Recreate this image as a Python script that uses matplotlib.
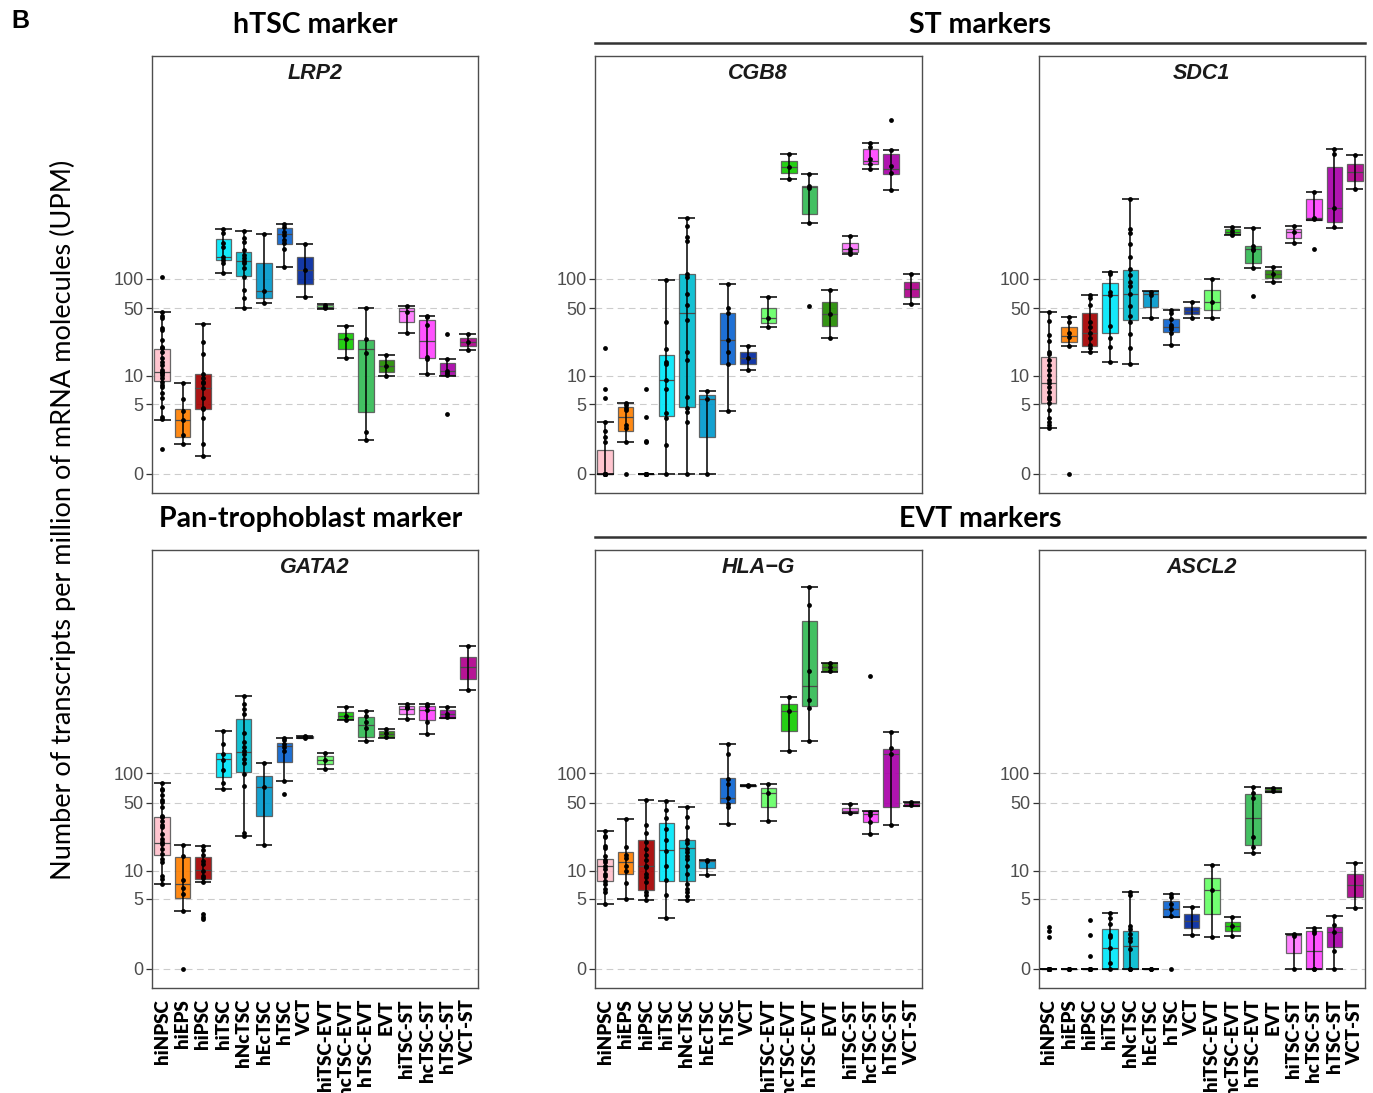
import numpy as np
import matplotlib
matplotlib.use("Agg")
import matplotlib.pyplot as plt
from matplotlib.colors import to_rgba

plt.rcParams["font.family"] = ["Liberation Sans", "DejaVu Sans"]

# ---------------- data (UPM) ----------------
groups = ["hiNPSC", "hiEPS", "hiPSC", "hiTSC", "hNcTSC", "hEcTSC", "hTSC", "VCT",
          "hiTSC-EVT", "hcTSC-EVT", "hTSC-EVT", "EVT",
          "hiTSC-ST", "hcTSC-ST", "hTSC-ST", "VCT-ST"]
colors = ["#FFC0CB", "#FF7F00", "#A50000", "#00E8FA", "#00BCD0", "#0099CC", "#0A64D2", "#0028A0",
          "#66FF66", "#12CC00", "#33BB55", "#228B00",
          "#FF77FF", "#FF44FF", "#AA00AA", "#B0008C"]
y_ticks = [0, 5, 10, 50, 100]

genes = ["LRP2", "CGB8", "SDC1", "GATA2", "HLA\u2212G", "ASCL2"]

# ---- LRP2 ----
LRP2_q1 = [8.8, 1.95, 4.42, 156, 107, 64, 224, 89, 49.5, 19.1, 4.05, 11.1, 35.6, 15.3, 10.2, 20.4]
LRP2_med = [10.9, 3.3, 7.4, 165, 152, 74.8, 284, 122, 51.2, 23.9, 19.1, 12.7, 46.7, 22.9, 11.3, 22.4]
LRP2_q3 = [18.9, 4.45, 10.5, 253, 188, 145, 330, 165, 54, 27.7, 23.5, 14.5, 49.8, 37.7, 13.7, 24.5]
LRP2_lo = [3.3, 1.52, 0.89, 115, 50.5, 57, 132, 65, 49.2, 15.5, 1.78, 9.9, 27.7, 10.5, 10, 18.7]
LRP2_hi = [46, 8.5, 34, 320, 307, 284, 363, 224, 55, 32.8, 49.8, 16.4, 53, 41.8, 15, 26.9]
LRP2_pts = [
    [103, 46, 41, 40, 31, 30, 23.5, 20, 19.3, 17.7, 15.2, 14, 13, 11.5, 11, 10.8, 10.2, 9.4, 8.7, 8, 7.6, 6.6, 5.8, 4.7, 3.6, 3.4, 1.27],
    [8.5, 5.65, 4.2, 3.3, 2.1, 1.52],
    [34, 22.4, 16.8, 10.6, 9.4, 8.7, 8.4, 7.4, 5.8, 4.5, 4.4, 3.5, 1.52, 0.89],
    [320, 296, 230, 212, 168, 156, 144, 115],
    [307, 258, 239, 197, 175, 162, 152, 144, 128, 105, 76.6, 62.8, 50.5],
    [284, 75, 57],
    [363, 340, 302, 280, 249, 230, 200, 132],
    [224, 122, 65],
    [54, 51.2, 49.5],
    [32.8, 23.9, 15.5],
    [49.8, 24.3, 17.4, 2.3, 1.78],
    [16.4, 12.7, 9.9],
    [53, 46, 27.7],
    [41.8, 40.5, 33.7, 15.7, 15.0, 10.5],
    [27.1, 15, 11.3, 10.8, 10.2, 3.85],
    [26.9, 22.4, 18.7],
]

# ---- CGB8 ----
CGB8_q1 = [0, 2.4, 0, 3.72, 4.7, 2.0, 13.2, 13.3, 35.3, 1200, 456, 32.8, 188, 1510, 1180, 64.3]
CGB8_med = [0, 3.6, 0, 9.0, 45, 5.68, 23.3, 15.3, 39.5, 1380, 876, 43.5, 200, 1600, 1330, 77.8]
CGB8_q3 = [1.2, 4.7, 0, 16.3, 113, 6.25, 44.2, 17.8, 50, 1615, 890, 57.2, 230, 2110, 1880, 93]
CGB8_lo = [0, 1.68, 0, 0, 0, 0, 4.2, 11.5, 32.3, 1040, 374, 24.9, 179, 1320, 806, 54.6]
CGB8_hi = [3.1, 5.15, 0, 97, 415, 6.9, 87.4, 20.6, 64.3, 1880, 1170, 76.6, 272, 2430, 2090, 111.6]
CGB8_pts = [
    [19.5, 7.3, 5.8, 3.1, 2.4, 2.0, 1.68, 0, 0, 0, 0, 0, 0, 0, 0, 0, 0],
    [5.15, 4.87, 4.48, 4.3, 2.9, 2.65, 1.68, 0],
    [7.3, 3.6, 1.72, 1.65, 0, 0, 0, 0, 0, 0, 0, 0, 0, 0],
    [97, 36.1, 19, 14.1, 13.3, 9, 7.3, 3.95, 3.45, 1.45, 0],
    [415, 346, 270, 245, 113, 105, 69.5, 54, 37.7, 17.8, 14.6, 6.0, 4.48, 4.1, 3.15, 0],
    [6.9, 5.68, 0],
    [87.4, 50.5, 44.2, 23.3, 17.8, 13.2, 4.2],
    [20.6, 15.3, 11.5],
    [64.3, 39.5, 32.3],
    [1880, 1380, 1040],
    [1170, 890, 850, 374, 53],
    [76.6, 43.5, 24.9],
    [272, 200, 188, 179],
    [2430, 2250, 1670, 1510, 1320],
    [4200, 2090, 1425, 1200, 806],
    [111.6, 54.6],
]

# ---- SDC1 ----
SDC1_q1 = [5.15, 22.6, 20.6, 28, 37.7, 51.6, 28.6, 43, 47.6, 284, 144, 101, 264, 396, 384, 993]
SDC1_med = [8.35, 26.1, 28, 68.3, 69.5, 70, 32.3, 46.7, 58.3, 302, 200, 113, 300, 420, 533, 1230]
SDC1_q3 = [15.8, 32, 44.2, 90.3, 123, 74.2, 38.3, 51.2, 76, 320, 216, 122, 320, 649, 1380, 1490]
SDC1_lo = [2.6, 20.6, 17.5, 14.1, 13.4, 40, 21, 39.5, 40, 278, 128, 93, 230, 396, 328, 820]
SDC1_hi = [45.5, 40.3, 67.8, 117.6, 654, 75, 48, 57.2, 100, 336, 333, 133, 350, 765, 2130, 1830]
SDC1_pts = [
    [45.5, 36.7, 26.5, 22.9, 17.8, 16.8, 14.6, 13, 11.5, 10.2, 9.0, 8.35, 7.7, 6.85, 6.0, 5.7, 5.1, 4.3, 3.45, 3.15, 2.85, 2.6],
    [40.3, 36, 27.5, 25, 20.6, 0],
    [67.8, 62.8, 54, 36, 32.3, 28, 24.5, 21, 19.3, 17.5],
    [117.6, 111, 73.5, 68.3, 32.8, 24.5, 20.1, 14.1],
    [654, 325, 294, 224, 168, 126, 108, 91.7, 85, 69.5, 53, 41.8, 36, 26.9, 19.3, 13.4],
    [73.5, 68, 40],
    [48, 44.2, 38.3, 33.7, 32, 30.5, 28, 21],
    [57.2, 39.5],
    [100, 58.3, 40],
    [336, 306, 290, 278],
    [333, 214, 203, 196, 128, 67.2],
    [133, 113, 93],
    [350, 300, 230],
    [765, 420, 405, 201],
    [2130, 1900, 533, 338],
    [1830, 820],
]

# ---- GATA2 ----
GATA2_q1 = [14.6, 5.1, 8.1, 91, 103, 36.1, 131, 230, 125, 355, 233, 237, 400, 352, 369, 918]
GATA2_med = [19.1, 7.3, 10.2, 140, 163, 71.7, 189, 234, 138, 384, 314, 254, 456, 446, 400, 1210]
GATA2_q3 = [35.9, 14, 14, 159, 360, 94.7, 203, 239, 150, 420, 372, 268, 490, 486, 446, 1540]
GATA2_lo = [7.25, 3.7, 7.55, 68.9, 22.9, 18.4, 84, 228, 111.6, 352, 214, 230, 355, 250, 366, 708]
GATA2_hi = [78.5, 18.3, 17.8, 270, 611, 127, 228, 241, 162, 470, 432, 280, 513, 513, 478, 2000]
GATA2_pts = [
    [78.5, 69.5, 67, 59.4, 53.6, 50.5, 45, 36.7, 35.5, 32.8, 29.7, 28, 23.9, 21.4, 20, 19, 16.7, 15, 13.2, 12.2, 8.8, 8.1, 7.25],
    [18.3, 14.2, 8, 6.5, 5.7, 3.7, 0],
    [17.8, 16.3, 14.6, 12.5, 11.7, 10, 8.9, 8.3, 7.55, 3.4, 3.1, 2.9],
    [270, 200, 157, 137, 107, 78.5, 68.9],
    [611, 513, 456, 403, 256, 208, 185, 168, 157, 140, 127, 98.5, 74, 24.5, 22.9],
    [127, 71.7, 18.4],
    [228, 216, 200, 185, 168, 84, 61.3],
    [239, 231],
    [162, 138, 111.6],
    [470, 386, 352],
    [432, 380, 330, 292, 214],
    [280, 256, 232],
    [513, 480, 460, 355],
    [513, 490, 446, 330, 250],
    [478, 403, 373],
    [2000, 708],
]

# ---- HLA-G ----
HLAG_q1 = [7.85, 9.15, 6.2, 7.85, 7.85, 10.6, 49.4, 73.5, 45.4, 272, 490, 1100, 39.2, 32, 45, 46.7]
HLAG_med = [11.2, 12.2, 11.2, 16.3, 17, 12.5, 56.2, 74.8, 63.3, 434, 784, 1220, 41.5, 38.3, 156, 49.1]
HLAG_q3 = [13.2, 15.5, 20.8, 30.7, 20.8, 12.9, 89, 76, 71, 513, 3550, 1340, 43.8, 40.8, 175, 50.9]
HLAG_lo = [4.37, 5, 4.9, 3.0, 4.9, 9.0, 30, 73.5, 32.3, 170, 212, 1090, 39.2, 23.7, 29.5, 46.5]
HLAG_hi = [25.9, 34, 53.6, 52.3, 45.5, 12.9, 197, 76, 77.8, 605, 7900, 1350, 48.8, 41.5, 264, 51.2]
HLAG_pts = [
    [25.9, 22.9, 22, 18, 17.3, 14.3, 13, 12.3, 11.2, 10.4, 9.15, 8.8, 7.85, 7.25, 6.4, 5.9, 4.37],
    [34, 17.6, 14.6, 13.5, 11.2, 10, 7.4, 5],
    [53.6, 29.2, 24.3, 20, 16.7, 14.6, 12.9, 11.2, 10.8, 9.15, 8.5, 7.55, 6, 5.5, 4.9],
    [52.3, 42.1, 34.6, 26.9, 20.8, 15.8, 11.2, 7.95, 5.5, 3.0],
    [45.5, 35.3, 28, 20.6, 19.2, 16.8, 15.5, 14.3, 13.2, 11.2, 9.15, 7.25, 6.4, 5.9, 5.4, 4.9],
    [12.9, 12.5, 9.0],
    [197, 156, 87.4, 77.8, 56.2, 48.8, 45, 30],
    [76, 74],
    [77.8, 63.3, 32.3],
    [605, 434, 170],
    [7900, 5200, 1110, 562, 466, 212],
    [1340, 1220, 1100],
    [48.8, 39.2],
    [977, 40, 37, 31.5, 23.7],
    [264, 182, 156, 29.5],
    [50.9, 47.5],
]

# ---- ASCL2 ----
ASCL2_q1 = [0, 0, 0, 0, 0, 0, 3.1, 2.24, 3.35, 2.02, 18.4, 65, 0.78, 0, 1.1, 5.3]
ASCL2_med = [0, 0, 0, 1.05, 1.16, 0, 3.9, 2.8, 6.2, 2.4, 34.8, 67.5, 1.76, 0.86, 1.95, 7.05]
ASCL2_q3 = [0, 0, 0, 2.16, 2.0, 0, 4.7, 3.4, 8.35, 2.72, 60.9, 70.6, 1.82, 2.05, 2.32, 9.2]
ASCL2_lo = [0, 0, 0, 0, 0, 0, 3.1, 1.76, 1.62, 1.7, 15.3, 64.5, 0, 0, 0, 4.0]
ASCL2_hi = [0, 0, 0, 3.5, 5.95, 0, 5.65, 4.1, 11.4, 3.1, 72.3, 71, 1.82, 2.26, 3.2, 12]
ASCL2_pts = [
    [2.28, 2.05, 1.66, 0, 0, 0, 0, 0, 0, 0, 0, 0, 0, 0, 0, 0, 0, 0, 0, 0],
    [0, 0, 0, 0, 0, 0],
    [2.88, 1.8, 0.62, 0, 0, 0, 0, 0, 0, 0, 0],
    [3.5, 3.05, 2.5, 1.78, 1.62, 1.05, 0.3, 0],
    [5.95, 5.5, 2.4, 2.16, 1.82, 1.58, 1.42, 1.0, 0, 0, 0],
    [0, 0, 0],
    [5.65, 5.2, 4.37, 3.85, 3.2, 0],
    [4.1, 1.76],
    [11.4, 6.2, 1.62],
    [3.1, 2.4, 1.7],
    [72.3, 62.8, 55.7, 22.2, 17.4, 15.3],
    [70.6, 66],
    [1.82, 1.7, 0],
    [2.26, 2.05, 1.9, 0, 0],
    [3.2, 2.45, 1.95, 0.89, 0],
    [12, 4.0],
]

panels = [
    (LRP2_q1, LRP2_med, LRP2_q3, LRP2_lo, LRP2_hi, LRP2_pts),
    (CGB8_q1, CGB8_med, CGB8_q3, CGB8_lo, CGB8_hi, CGB8_pts),
    (SDC1_q1, SDC1_med, SDC1_q3, SDC1_lo, SDC1_hi, SDC1_pts),
    (GATA2_q1, GATA2_med, GATA2_q3, GATA2_lo, GATA2_hi, GATA2_pts),
    (HLAG_q1, HLAG_med, HLAG_q3, HLAG_lo, HLAG_hi, HLAG_pts),
    (ASCL2_q1, ASCL2_med, ASCL2_q3, ASCL2_lo, ASCL2_hi, ASCL2_pts),
]

# ---------------- figure ----------------
W, H = 1373, 1093
fig = plt.figure(figsize=(W / 100, H / 100), dpi=100)


def fwd(v):
    return np.arcsinh(np.asarray(v, dtype=float) / 2.0)


def inv(t):
    return 2.0 * np.sinh(np.asarray(t, dtype=float))


col_x = [(152, 478), (595, 921.5), (1038.5, 1365)]
row_y = [(56, 493), (550, 988)]

GRAY_EDGE = (0.35, 0.35, 0.35, 0.9)

for k, (q1, med, q3, lo, hi, pts) in enumerate(panels):
    r, c = divmod(k, 3)
    x0, x1 = col_x[c]
    yt, yb = row_y[r]
    ax = fig.add_axes([x0 / W, 1 - yb / H, (x1 - x0) / W, (yb - yt) / H])
    ax.set_yscale("function", functions=(fwd, inv))
    ax.set_ylim(inv(-0.448), inv(9.856))
    ax.set_xlim(-0.5, 15.5)
    x = np.arange(len(groups))

    for v in y_ticks:
        ax.axhline(v, color="#CCCCCC", lw=0.8, ls=(0, (6, 4)), zorder=0)

    q1a, q3a = np.array(q1, float), np.array(q3, float)
    ax.bar(x, q3a - q1a, bottom=q1a, width=0.76,
           color=[to_rgba(cc, 0.92) for cc in colors],
           edgecolor=GRAY_EDGE, linewidth=0.9, zorder=2)
    ax.hlines(med, x - 0.38, x + 0.38, color="#4A4A4A", lw=0.9, zorder=3)
    ax.vlines(x, lo, hi, color="black", lw=1.1, zorder=4)
    ax.hlines(lo, x - 0.41, x + 0.41, color="black", lw=1.1, zorder=4)
    ax.hlines(hi, x - 0.41, x + 0.41, color="black", lw=1.1, zorder=4)
    for i, p in enumerate(pts):
        ax.scatter(np.full(len(p), i), p, s=12, color="black", linewidths=0, zorder=5)

    ax.set_yticks(y_ticks)
    ax.set_yticklabels([str(v) for v in y_ticks], fontfamily="Liberation Sans",
                       fontsize=13, color="#4D4D4D")
    ax.yaxis.set_minor_locator(matplotlib.ticker.NullLocator())
    ax.tick_params(axis="y", color="#333333", length=4, width=0.9, pad=2)
    ax.set_xticks(x)
    if r == 1:
        ax.set_xticklabels(groups, rotation=90, fontfamily="Lato", fontweight="heavy",
                           fontsize=13.5, color="black")
        ax.tick_params(axis="x", length=0, pad=8)
    else:
        ax.set_xticklabels([])
        ax.tick_params(axis="x", length=0)
    for s in ax.spines.values():
        s.set_color("#4D4D4D")
        s.set_linewidth(1.0)
    ax.text(0.5, 0.961, genes[k], transform=ax.transAxes, ha="center", va="center",
            fontsize=15.5, fontweight="bold", fontstyle="italic", color="#1A1A1A",
            family=["Liberation Sans", "DejaVu Sans"])

# ---------------- annotations ----------------
fig.text(11 / W, 1 - 21 / H, "B", fontsize=18, fontweight="bold", ha="left", va="center",
         family="Liberation Sans")
sect_kw = dict(fontsize=20.5, fontweight="bold", family="Lato", ha="center", va="center")
fig.text(315 / W, 1 - 25 / H, "hTSC marker", **sect_kw)
fig.text(980 / W, 1 - 25 / H, "ST markers", **sect_kw)
fig.text(311 / W, 1 - 519 / H, "Pan-trophoblast marker", **sect_kw)
fig.text(980 / W, 1 - 519 / H, "EVT markers", **sect_kw)
for yy in (43, 537):
    fig.add_artist(plt.Line2D([595 / W, 1365 / W], [1 - yy / H, 1 - yy / H],
                              color="#333333", lw=1.8, transform=fig.transFigure))

fig.text(63 / W, 1 - 520 / H, "Number of transcripts per million of mRNA molecules (UPM)",
         rotation=90, fontsize=19.5, family="Lato", ha="center", va="center")

fig.savefig("out.png", dpi=100)
